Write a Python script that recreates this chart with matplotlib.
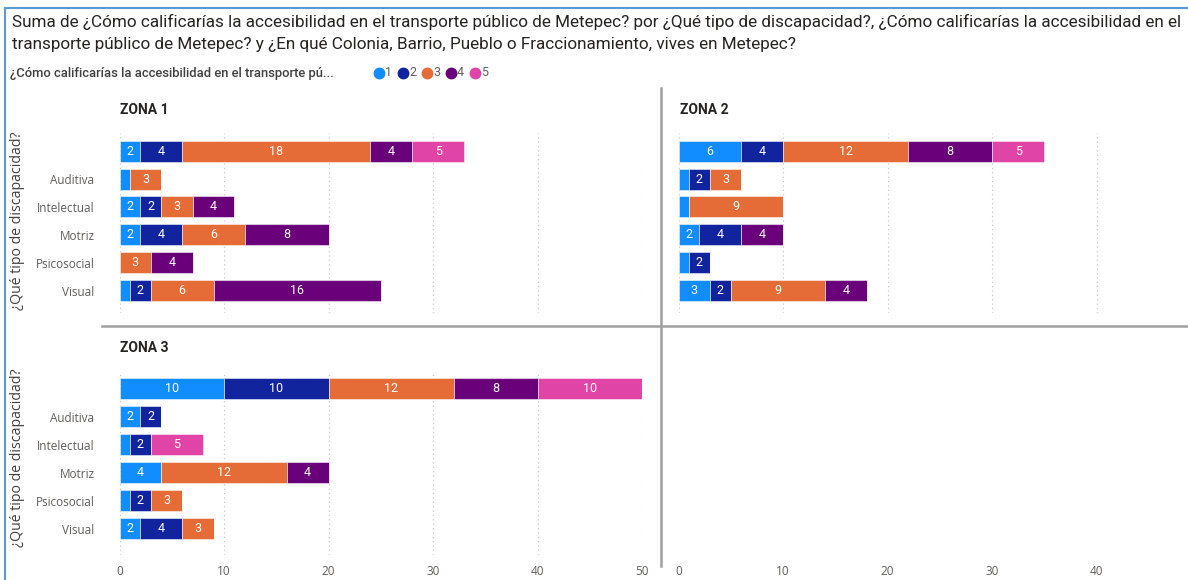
import numpy as np
import matplotlib
matplotlib.use("Agg")
import matplotlib.pyplot as plt
from matplotlib.lines import Line2D

categorias = ["", "Auditiva", "Intelectual", "Motriz", "Psicosocial", "Visual"]
calificaciones = ["1", "2", "3", "4", "5"]
colores = ["#118DFF", "#12239E", "#E66C37", "#6B007B", "#E044A7"]

# filas = tipo de discapacidad, columnas = calificación 1..5
zona1 = [[2, 4, 18, 4, 5],
         [1, 0, 3, 0, 0],
         [2, 2, 3, 4, 0],
         [2, 4, 6, 8, 0],
         [0, 0, 3, 4, 0],
         [1, 2, 6, 16, 0]]
zona2 = [[6, 4, 12, 8, 5],
         [1, 2, 3, 0, 0],
         [1, 0, 9, 0, 0],
         [2, 4, 0, 4, 0],
         [1, 2, 0, 0, 0],
         [3, 2, 9, 4, 0]]
zona3 = [[10, 10, 12, 8, 10],
         [2, 2, 0, 0, 0],
         [1, 2, 0, 0, 5],
         [4, 0, 12, 4, 0],
         [1, 2, 3, 0, 0],
         [2, 4, 3, 0, 0]]

titulo1 = ("Suma de ¿Cómo calificarías la accesibilidad en el transporte público de Metepec? "
           "por ¿Qué tipo de discapacidad?, ¿Cómo calificarías la accesibilidad en el")
titulo2 = "transporte público de Metepec? y ¿En qué Colonia, Barrio, Pueblo o Fraccionamiento, vives en Metepec?"
leyenda = "¿Cómo calificarías la accesibilidad en el transporte pú..."
eje_y = "¿Qué tipo de discapacidad?"

W, H = 1188, 580
GRIS = "#605E5C"
OSCURO = "#252423"
plt.rcParams["font.family"] = ["Open Sans", "DejaVu Sans"]


def px_axes(fig, left, top, right, bottom):
    return fig.add_axes([left / W, 1 - bottom / H, (right - left) / W, (bottom - top) / H])


def fy(y):
    return 1 - y / H


def draw_zone(ax, data, xmax, ylim, show_cats, show_x):
    data = np.array(data)
    y = np.arange(len(categorias))
    left = np.zeros(len(categorias))
    for j, col in enumerate(colores):
        vals = data[:, j]
        ax.barh(y, vals, left=left, height=0.75, color=col,
                edgecolor=(1, 1, 1, 0.6), linewidth=0.6, zorder=2)
        for i, v in enumerate(vals):
            if v >= 2:
                ax.text(left[i] + v / 2, y[i], str(v), ha="center", va="center",
                        color="white", fontsize=9, family="Roboto", zorder=3)
        left += vals
    ax.set_xlim(0, xmax)
    ax.set_ylim(*ylim)
    ax.set_xticks(np.arange(0, xmax + 0.1, 10))
    ax.grid(axis="x", linestyle=(0, (1, 2.5)), color="#C8C8C8", linewidth=0.9)
    ax.set_axisbelow(True)
    for s in ax.spines.values():
        s.set_visible(False)
    ax.tick_params(length=0)
    if show_cats:
        ax.set_yticks(y)
        ax.set_yticklabels(categorias, fontsize=8.5, color=GRIS)
        ax.tick_params(axis="y", pad=18)
    else:
        ax.set_yticks([])
    if show_x:
        ax.tick_params(axis="x", labelsize=8.5, labelcolor=GRIS, pad=7)
    else:
        ax.set_xticklabels([])


fig = plt.figure(figsize=(W / 100, H / 100), dpi=100)

ax1 = px_axes(fig, 119.5, 133, 642, 313)
draw_zone(ax1, zona1, 50, (5.786, -0.643), True, False)
ax2 = px_axes(fig, 678.5, 133, 1188, 313)
draw_zone(ax2, zona2, (1188 - 678.5) / 10.45, (5.786, -0.643), False, False)
ax2.set_xticks(np.arange(0, 41, 10))
ax3 = px_axes(fig, 119.5, 372, 642, 555)
draw_zone(ax3, zona3, 50, (5.93, -0.607), True, True)

# etiquetas del eje x de la zona 2 (celda vacía debajo)
ax4 = px_axes(fig, 678.5, 372, 1188, 555)
ax4.set_xlim(0, (1188 - 678.5) / 10.45)
ax4.set_xticks(np.arange(0, 41, 10))
ax4.set_yticks([])
for s in ax4.spines.values():
    s.set_visible(False)
ax4.patch.set_alpha(0)
ax4.tick_params(length=0, labelsize=8.5, labelcolor=GRIS, pad=7)

# títulos de zona
for x, y, t in [(120, 110, "ZONA 1"), (680, 110, "ZONA 2"), (120, 348, "ZONA 3")]:
    fig.text(x / W, fy(y), t, fontsize=10, fontweight="bold", family="Roboto",
             color=OSCURO, va="center", ha="left")

# etiqueta del eje y
for y in (221, 458):
    fig.text(18 / W, fy(y), eje_y, rotation=90, fontsize=10.2, color="#404040",
             va="center", ha="center")

# separadores
fig.add_artist(Line2D([102 / W, 1], [fy(325.5)] * 2, color="#A0A0A0", lw=1.8))
fig.add_artist(Line2D([661 / W] * 2, [fy(88), fy(566)], color="#A0A0A0", lw=1.8))

# marco
fig.add_artist(Line2D([5 / W, 1], [fy(8)] * 2, color="#5B9BD5", lw=1.5))
fig.add_artist(Line2D([5 / W] * 2, [fy(8), 0], color="#5B9BD5", lw=1.5))

# título
fig.text(12 / W, fy(22), titulo1, fontsize=12.3, family="Roboto", color=OSCURO, va="center")
fig.text(12 / W, fy(45), titulo2, fontsize=12.3, family="Roboto", color=OSCURO, va="center")

# leyenda
fig.text(10 / W, fy(73), leyenda, fontsize=9.4, family="Roboto", fontweight="medium",
         color="#404040", va="center")
for k, (lab, col) in enumerate(zip(calificaciones, colores)):
    x = 379 + 24 * k
    fig.add_artist(Line2D([x / W], [fy(73)], marker="o", markersize=7.5,
                          color=col, linestyle="none"))
    fig.text((x + 6) / W, fy(73), lab, fontsize=9, family="Roboto",
             color=GRIS, va="center")

fig.savefig("out.png", dpi=100)
